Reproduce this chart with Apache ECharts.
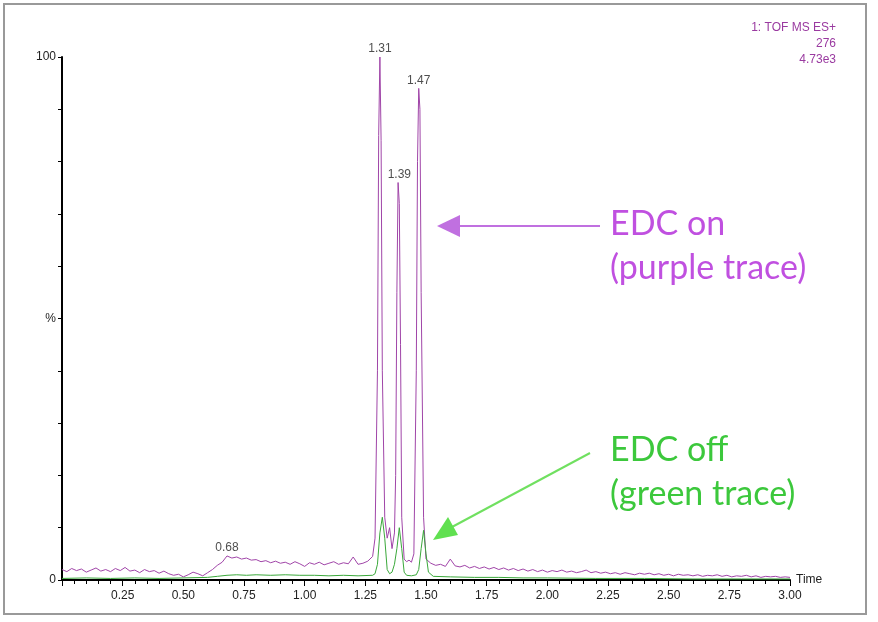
<!DOCTYPE html>
<html>
<head>
<meta charset="utf-8">
<script src="https://cdn.jsdelivr.net/npm/echarts@6/dist/echarts.min.js"></script>
<style>
  html, body { margin: 0; padding: 0; background: #fff; }
  #chart { width: 878px; height: 622px; }
</style>
</head>
<body>
<div id="chart"></div>
<script>
// 紫色曲线 (EDC on): [时间, %]
var edcOn = [
  [0.00,2.0],[0.02,1.6],[0.04,2.2],[0.06,1.8],[0.08,2.1],[0.10,1.5],[0.12,1.9],[0.14,2.3],[0.16,1.7],[0.18,2.0],
  [0.20,1.6],[0.22,2.2],[0.24,1.8],[0.26,2.4],[0.28,1.7],[0.30,1.9],[0.32,1.4],[0.34,2.0],[0.36,1.6],[0.38,1.8],
  [0.40,1.3],[0.42,1.7],[0.44,1.2],[0.46,0.9],[0.48,1.1],[0.50,0.6],[0.52,1.0],[0.54,1.5],[0.56,1.2],[0.58,0.8],
  [0.60,1.4],[0.62,2.0],[0.64,2.8],[0.66,3.4],[0.68,4.6],[0.70,4.2],[0.72,4.4],[0.74,4.0],[0.76,4.2],[0.78,3.8],
  [0.80,3.9],[0.82,3.5],[0.84,3.7],[0.86,3.3],[0.88,3.6],[0.90,3.2],[0.92,3.4],[0.94,3.0],[0.96,3.5],[0.98,3.1],
  [1.00,2.6],[1.02,3.3],[1.04,3.0],[1.06,3.4],[1.08,2.9],[1.10,3.2],[1.12,3.5],[1.14,3.0],[1.16,3.3],[1.18,3.1],
  [1.20,4.4],[1.22,3.0],[1.24,3.2],[1.26,3.6],[1.28,4.5],[1.29,8],[1.30,40],[1.305,85],[1.31,100],[1.315,84],
  [1.32,40],[1.33,12],[1.34,8],[1.35,10],[1.36,6],[1.37,9],[1.375,20],[1.38,55],[1.385,76],[1.39,72],
  [1.395,45],[1.40,12],[1.41,4],[1.42,3.5],[1.43,3.8],[1.44,3.4],[1.45,5],[1.46,40],[1.465,80],[1.47,94],
  [1.475,90],[1.48,55],[1.49,12],[1.50,4],[1.52,3.2],[1.54,2.8],[1.56,3.0],[1.58,2.6],[1.60,4.0],[1.62,2.7],
  [1.64,2.5],[1.66,2.8],[1.68,2.3],[1.70,2.6],[1.72,2.2],[1.74,2.5],[1.76,2.1],[1.78,2.4],[1.80,2.0],[1.82,2.3],
  [1.84,1.9],[1.86,2.2],[1.88,1.8],[1.90,2.1],[1.92,1.7],[1.94,2.0],[1.96,1.6],[1.98,1.9],[2.00,1.5],[2.02,1.8],
  [2.04,1.6],[2.06,1.9],[2.08,1.5],[2.10,1.7],[2.12,1.4],[2.14,1.6],[2.16,1.9],[2.18,1.4],[2.20,1.6],[2.22,1.3],
  [2.24,1.5],[2.26,1.2],[2.28,1.4],[2.30,1.1],[2.32,1.4],[2.34,1.2],[2.36,1.0],[2.38,1.3],[2.40,1.1],[2.42,1.3],
  [2.44,1.0],[2.46,1.2],[2.48,0.9],[2.50,1.1],[2.52,0.8],[2.54,1.1],[2.56,0.9],[2.58,1.0],[2.60,0.8],[2.62,1.0],
  [2.64,0.7],[2.66,0.9],[2.68,0.8],[2.70,1.0],[2.72,0.7],[2.74,0.9],[2.76,0.6],[2.78,0.8],[2.80,0.7],[2.82,0.9],
  [2.84,0.6],[2.86,0.8],[2.88,0.5],[2.90,0.7],[2.92,0.6],[2.94,0.7],[2.96,0.5],[2.98,0.6],[3.00,0.5]
];
// 绿色曲线 (EDC off)
var edcOff = [
  [0.00,0.3],[0.10,0.4],[0.20,0.3],[0.30,0.4],[0.40,0.3],[0.50,0.4],[0.60,0.5],[0.64,0.7],[0.68,0.9],[0.72,1.0],
  [0.76,0.9],[0.80,1.0],[0.86,0.9],[0.92,1.0],[0.98,0.9],[1.04,0.9],[1.10,0.8],[1.16,0.9],[1.22,0.8],[1.28,0.9],
  [1.29,1.2],[1.30,3],[1.31,9],[1.32,12],[1.33,8],[1.34,2],[1.35,1.2],[1.36,1.5],[1.37,3],[1.38,6],
  [1.39,10],[1.40,6],[1.41,1.5],[1.42,0.9],[1.44,0.8],[1.46,1.0],[1.47,2],[1.48,6],[1.49,9.5],[1.50,5],
  [1.51,1.5],[1.53,0.7],[1.60,0.6],[1.70,0.5],[1.80,0.5],[1.90,0.4],[2.00,0.4],[2.20,0.3],[2.40,0.3],[2.60,0.2],
  [2.80,0.2],[3.00,0.2]
];
// 峰标注
var peakLabels = [[0.68,4.6,'0.68'],[1.31,100,'1.31'],[1.39,76,'1.39'],[1.47,94,'1.47']];

var purple = '#a045a8', green = '#3aa83a';
var chart = echarts.init(document.getElementById('chart'));
var font = 'Liberation Sans';
chart.setOption({
  backgroundColor: '#fff',
  animation: false,
  grid: { left: 62, right: 88, top: 57, bottom: 42 },
  xAxis: {
    type: 'value', min: 0, max: 3, interval: 0.25,
    name: 'Time', nameGap: 6, nameTextStyle: { color: '#222', fontFamily: font, fontSize: 12 },
    axisLine: { lineStyle: { color: '#000', width: 2 } },
    axisTick: { length: 6, lineStyle: { color: '#000' } },
    minorTick: { show: true, splitNumber: 5, length: 4, lineStyle: { color: '#000' } },
    splitLine: { show: false },
    axisLabel: { color: '#222', fontFamily: font, fontSize: 12, margin: 10,
      formatter: function (v) { return v === 0 ? '' : v.toFixed(2); } }
  },
  yAxis: {
    type: 'value', min: 0, max: 100, interval: 10,
    axisLine: { show: true, lineStyle: { color: '#000', width: 2 } },
    axisTick: { show: true, length: 4, lineStyle: { color: '#000' } },
    splitLine: { show: false },
    axisLabel: { color: '#222', fontFamily: font, fontSize: 12, margin: 6,
      formatter: function (v) { return v === 0 ? '0' : v === 50 ? '%' : v === 100 ? '100' : ''; } }
  },
  series: [
    { type: 'line', data: edcOn, symbol: 'none', z: 2,
      lineStyle: { color: purple, width: 1 } },
    { type: 'line', data: edcOff, symbol: 'none', z: 3,
      lineStyle: { color: green, width: 1 } },
    { type: 'scatter', data: peakLabels, symbolSize: 0, z: 4,
      label: { show: true, position: 'top', distance: 2, color: '#222', fontFamily: font, fontSize: 12,
        formatter: function (p) { return p.data[2]; } } }
  ],
  graphic: [
    { type: 'rect', shape: { x: 4, y: 4, width: 862, height: 610 }, style: { fill: null, stroke: '#999', lineWidth: 2 } },
    { type: 'text', x: 836, y: 20, style: { text: '1: TOF MS ES+\n276\n4.73e3', align: 'right', textAlign: 'right', fill: '#9a3aa0', font: '12px Liberation Sans', lineHeight: 16 } },
    { type: 'line', shape: { x1: 458, y1: 226, x2: 600, y2: 226 }, style: { stroke: '#c070e0', lineWidth: 2 } },
    { type: 'polygon', shape: { points: [[437, 226], [460, 215], [460, 237]] }, style: { fill: '#c070e0' } },
    { type: 'text', left: 610, top: 202, style: { text: 'EDC on\n(purple trace)', fill: '#c050e0', font: '34px Lato', lineHeight: 44 } },
    { type: 'line', shape: { x1: 452, y1: 527, x2: 590, y2: 453 }, style: { stroke: '#70e060', lineWidth: 2 } },
    { type: 'polygon', shape: { points: [[433, 540], [448, 517], [458, 535]] }, style: { fill: '#60e050' } },
    { type: 'text', left: 610, top: 428, style: { text: 'EDC off\n(green trace)', fill: '#3cc83c', font: '34px Lato', lineHeight: 44 } }
  ]
});
</script>
</body>
</html>
